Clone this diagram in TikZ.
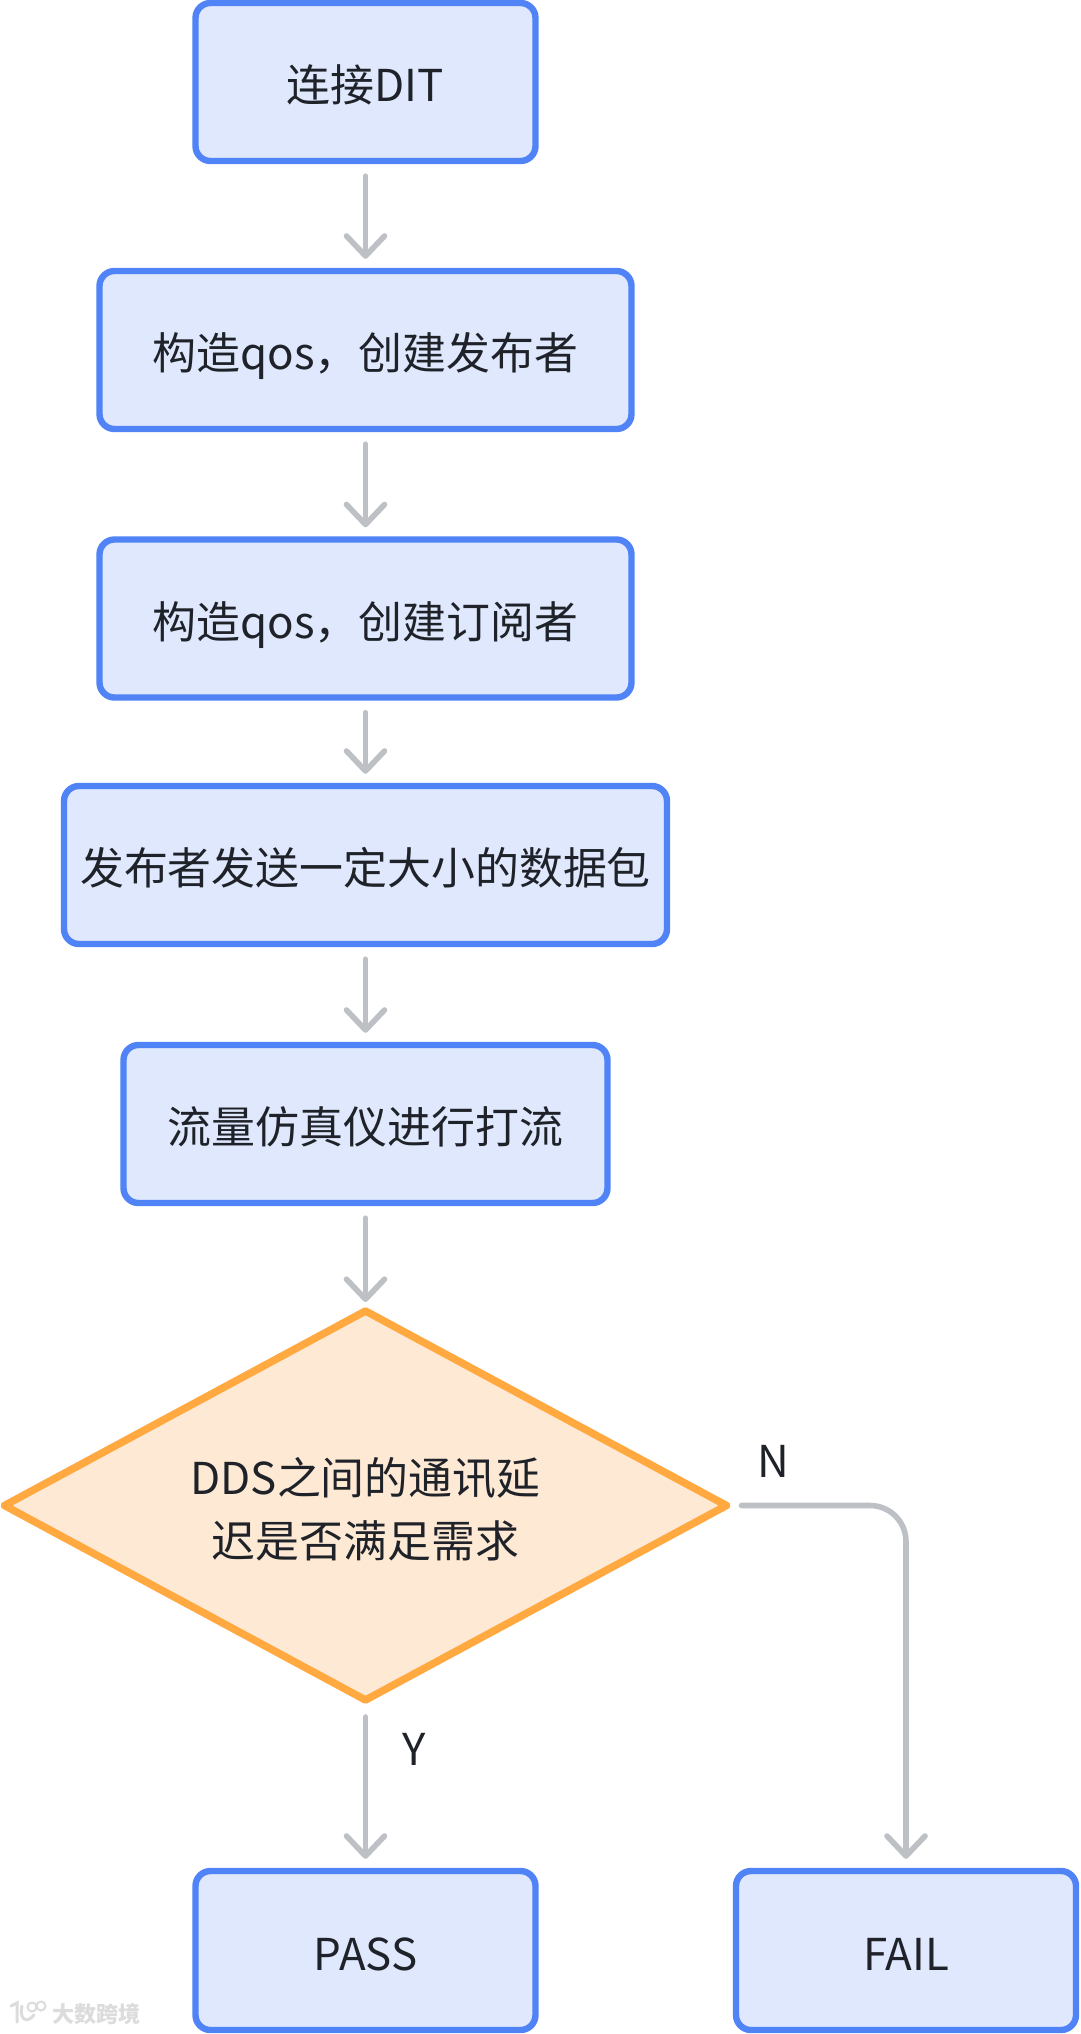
\documentclass[tikz,border=0pt]{standalone}
\usepackage{fontspec}
\setmainfont{Noto Sans CJK SC}
\usetikzlibrary{shapes.geometric,arrows.meta}
\definecolor{boxline}{HTML}{5083F5}
\definecolor{boxfill}{HTML}{DFE8FD}
\definecolor{decline}{HTML}{FFA940}
\definecolor{decfill}{HTML}{FEE9D4}
\definecolor{linkcol}{HTML}{BDC0C5}
\definecolor{inkcol}{HTML}{1F2329}
\definecolor{markcol}{HTML}{DCDCDC}
\tikzset{
  x=1pt,y=-1pt,
  base/.style={font=\fontsize{43.9pt}{62.5pt}\selectfont,text=inkcol,align=center,inner sep=0pt},
  stepbox/.style={base,draw=boxline,fill=boxfill,line width=6.4pt,rounded corners=15pt,anchor=center,text height=39pt,text depth=0pt},
  decbox/.style={base,draw=decline,fill=decfill,line width=7.5pt,line join=round,diamond,shape aspect=1.855,minimum width=722pt,minimum height=389pt,outer sep=0pt,text height=103pt,text depth=0pt},
  link/.style={draw=linkcol,line width=5.6pt,line cap=round,-{Straight Barb[length=20pt,width=38pt,line cap=round,line join=round]},shorten <=12pt,shorten >=9pt},
  tag/.style={base},
}
\begin{document}
\begin{tikzpicture}
\useasboundingbox (0,0) rectangle (1080,2034);
\fill[white] (0,0) rectangle (1080,2034);
\node[stepbox,minimum width=340pt,minimum height=158pt] (a) at (365.5,82) {连接DIT};
\node[stepbox,minimum width=532pt,minimum height=158pt] (b) at (365.5,350) {构造qos，创建发布者};
\node[stepbox,minimum width=532pt,minimum height=158pt] (c) at (365.5,618.5) {构造qos，创建订阅者};
\node[stepbox,minimum width=603pt,minimum height=158pt] (d) at (365.5,865) {发布者发送一定大小的数据包};
\node[stepbox,minimum width=484pt,minimum height=158pt] (e) at (365.5,1124) {流量仿真仪进行打流};
\node[decbox] (f) at (365.5,1505.5) {DDS之间的通讯延\\迟是否满足需求};
\node[stepbox,minimum width=340pt,minimum height=159pt] (p) at (365.5,1950.5) {PASS};
\node[stepbox,minimum width=340pt,minimum height=159pt] (q) at (906,1950.5) {FAIL};
\draw[link] (a.south) -- (b.north);
\draw[link] (b.south) -- (c.north);
\draw[link] (c.south) -- (d.north);
\draw[link] (d.south) -- (e.north);
\draw[link] (e.south) -- (f.north);
\draw[link,shorten <=17pt] (f.south) -- (p.north);
\draw[link,rounded corners=36pt,shorten <=15pt] (f.east) -| (q.north);
\node[tag] (ny) at (773,1461) {N};
\node[tag] (yy) at (414,1749) {Y};
% watermark
\node[inner sep=0pt,text=markcol,font=\fontsize{22pt}{24pt}\selectfont\bfseries] (wm) at (96,2014) {大数跨境};
\draw[markcol,line width=3pt,line cap=round] (11,2006) -- (17,2003) -- (17,2022);
\draw[markcol,line width=3pt,line cap=round] (22,2006) .. controls (19,2018) and (26,2025) .. (34,2015);
\draw[markcol,line width=2pt] (32,2007) circle (4.5);
\draw[markcol,line width=2pt] (41,2006) circle (4.5);
\end{tikzpicture}
\end{document}
